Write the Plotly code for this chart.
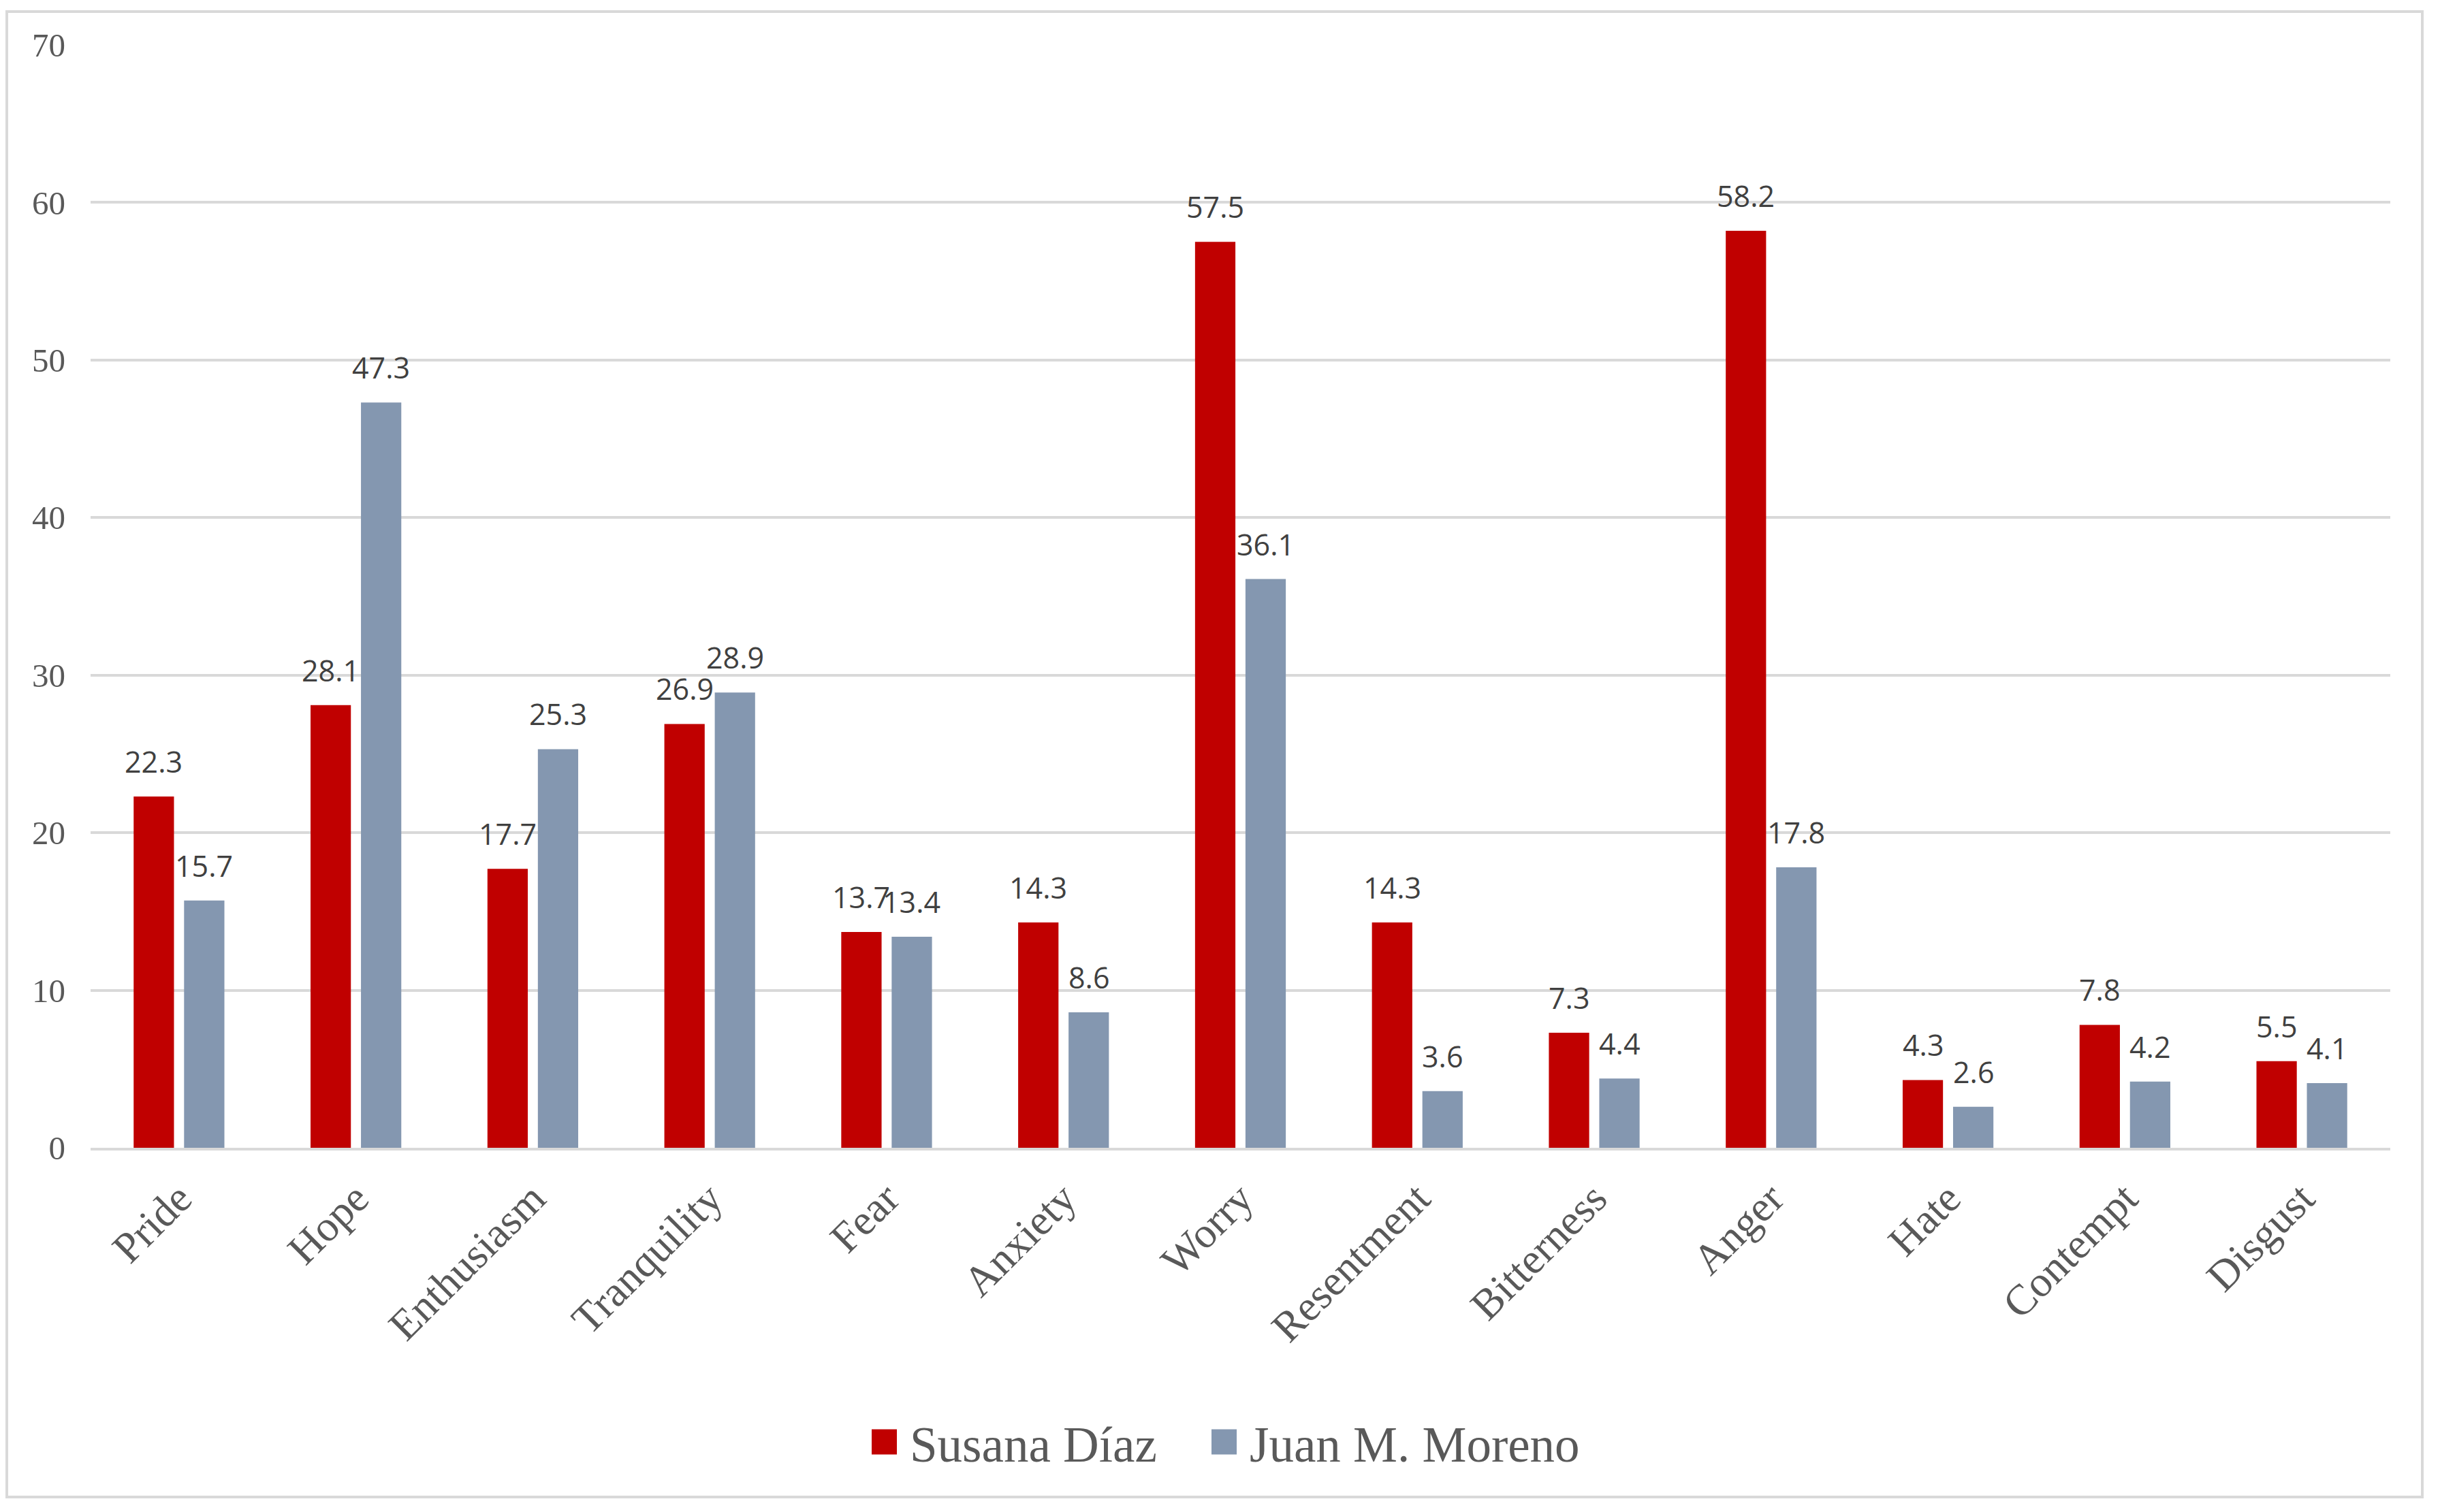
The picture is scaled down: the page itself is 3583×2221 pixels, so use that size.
import plotly.graph_objects as go

categories = ["Pride", "Hope", "Enthusiasm", "Tranquility", "Fear", "Anxiety", "Worry",
              "Resentment", "Bitterness", "Anger", "Hate", "Contempt", "Disgust"]
susana_diaz = [22.3, 28.1, 17.7, 26.9, 13.7, 14.3, 57.5, 14.3, 7.3, 58.2, 4.3, 7.8, 5.5]
juan_moreno = [15.7, 47.3, 25.3, 28.9, 13.4, 8.6, 36.1, 3.6, 4.4, 17.8, 2.6, 4.2, 4.1]
series_names = ["Susana Díaz", "Juan M. Moreno"]
y_ticks = [0, 10, 20, 30, 40, 50, 60, 70]

RED = "#c00000"
BLUE = "#8497b0"
GRID = "#d9d9d9"
OFF = 8  # page body margin

W, H = 3583, 2221
ML, MT = 133 - OFF, 66 - OFF
MR = W - (3510 - OFF)
MB = H - (1686 - OFF)
plot_w = W - ML - MR
plot_h = H - MT - MB


def px(xp):
    return (xp - OFF - ML) / plot_w


def py(yp):
    return (H - MB - (yp - OFF)) / plot_h


fig = go.Figure()
fig.add_trace(go.Bar(x=categories, y=susana_diaz, name=series_names[0], showlegend=False,
                     marker=dict(color=RED, line=dict(width=0))))
fig.add_trace(go.Bar(x=categories, y=juan_moreno, name=series_names[1], showlegend=False,
                     marker=dict(color=BLUE, line=dict(width=0))))

# data labels
slot_px = plot_w / len(categories) * (1 - 0.43) / 2
annotations = []
for vals, sign in ((susana_diaz, -1), (juan_moreno, 1)):
    for c, v in zip(categories, vals):
        annotations.append(dict(x=c, y=v, xref="x", yref="y", text=f"{v:.1f}",
                                showarrow=False, xanchor="center", yanchor="bottom",
                                xshift=sign * slot_px / 2, yshift=20,
                                font=dict(family="Open Sans", size=43, color="#404040")))

shapes = [dict(type="rect", xref="paper", yref="paper", x0=px(10), x1=px(3557),
               y0=py(2199), y1=py(17), line=dict(color=GRID, width=4),
               fillcolor="rgba(0,0,0,0)", layer="below")]

# legend (square swatch + label)
legend_items = [(series_names[0], RED, 1280), (series_names[1], BLUE, 1779)]
sq = 37
ly = 2118
for name, col, x_sq in legend_items:
    shapes.append(dict(type="rect", xref="paper", yref="paper", x0=px(x_sq), x1=px(x_sq + sq),
                       y0=py(ly + sq / 2), y1=py(ly - sq / 2), line=dict(width=0),
                       fillcolor=col))
    annotations.append(dict(x=px(x_sq + sq + 17), y=py(ly + 4), xref="paper", yref="paper",
                            text=name, showarrow=False, xanchor="left", yanchor="middle",
                            font=dict(family="Liberation Serif", size=73, color="#595959")))

fig.update_layout(
    width=W, height=H,
    margin=dict(l=ML, r=MR, t=MT, b=MB),
    paper_bgcolor="white", plot_bgcolor="white",
    barmode="group", bargap=0.43, bargroupgap=0.2,
    annotations=annotations,
    shapes=shapes,
    showlegend=False,
)
fig.update_yaxes(range=[0, 70], tickvals=y_ticks, showgrid=True, gridcolor=GRID, gridwidth=4,
                 zeroline=False, showline=False, ticks="", ticklabelstandoff=36,
                 tickfont=dict(family="Liberation Serif", size=49, color="#595959"))
fig.update_xaxes(showgrid=False, showline=True, linecolor=GRID, linewidth=4, ticks="",
                 tickangle=-45, ticklabelstandoff=8,
                 tickfont=dict(family="Liberation Serif", size=63, color="#595959"))

fig.write_html("out.html")
